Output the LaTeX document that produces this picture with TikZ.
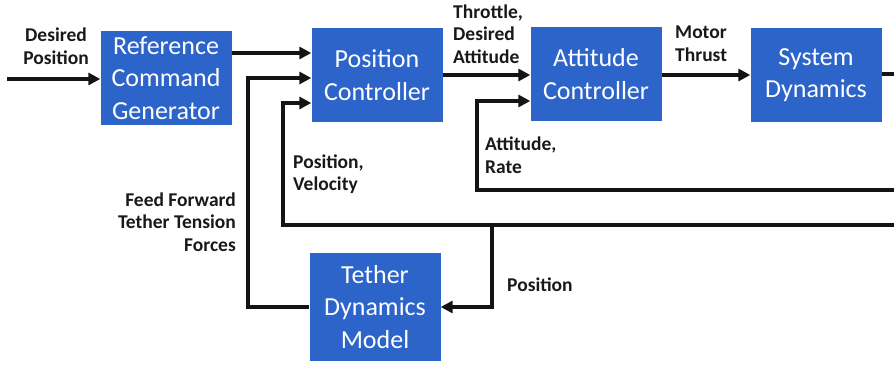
\documentclass[tikz,border=0pt]{standalone}
\usepackage{fontspec}
\setmainfont{Carlito}
\usetikzlibrary{positioning,calc,arrows.meta}
\definecolor{blkblue}{RGB}{44,100,202}

\begin{document}
\begin{tikzpicture}[x=1pt,y=-1pt,
    blk/.style={fill=blkblue,text=white,minimum width=131pt,minimum height=94pt,align=center,inner sep=2pt,font=\fontsize{26}{32.5}\selectfont},
    lbl/.style={font=\fontsize{19.5}{22.5}\selectfont\bfseries,inner sep=0pt,text=black!90},
    arr/.style={line width=3.6pt,draw=black!92,-{Triangle[length=12pt,width=12pt]}}]
    \useasboundingbox (0,0) rectangle (894,366);
    % blocks
    \node[blk] (rcg) at (166,78) {Reference\\Command\\Generator};
    \node[blk] (pc) at (377,75) {Position\\Controller};
    \node[blk] (ac) at (596,74) {Attitude\\Controller};
    \node[blk] (sd) at (816,75) {System\\Dynamics};
    \node[blk,minimum height=108pt] (tdm) at (375,307) {Tether\\Dynamics\\Model};
    % free ends
    \coordinate (in) at (7,79);
    \coordinate (out) at (900,74);
    \coordinate (fbpos) at (900,225);
    \coordinate (fbatt) at (900,190);
    % forward path
    \draw[arr] (in) -- (rcg.west |- in);
    \draw[arr] (rcg.east |- 0,53) -- (pc.west |- 0,53);
    \draw[arr] (pc.east) -- (ac.west |- pc.east);
    \draw[arr] (ac.east |- 0,75) -- (sd.west |- 0,75);
    \draw[line width=3.6pt,draw=black!92] (sd.east |- out) -- (out);
    % feedback
    \draw[arr] (tdm.west) -| (248,78) -- (pc.west |- 0,78);
    \draw[arr] (fbpos) -- (283,225) |- (pc.west |- 0,103);
    \draw[arr] (492,225) |- (tdm.east);
    \draw[arr] (fbatt) -- (477,190) |- (ac.west |- 0,101);
    % labels
    \node[lbl,align=center] (lin) at (56,46) {Desired\\Position};
    \node[lbl,align=left,anchor=west] (lthr) at (453,34) {Throttle,\\Desired\\Attitude};
    \node[lbl,align=left,anchor=west] (lmot) at (675,44) {Motor\\Thrust};
    \node[lbl,align=left,anchor=west] (latt) at (485,155) {Attitude,\\Rate};
    \node[lbl,align=left,anchor=west] (lpv) at (293,174) {Position,\\Velocity};
    \node[lbl,align=right,anchor=east] (lff) at (236,222) {Feed Forward\\Tether Tension\\Forces};
    \node[lbl,anchor=west] (lpos) at (507,285) {Position};
\end{tikzpicture}
\end{document}
